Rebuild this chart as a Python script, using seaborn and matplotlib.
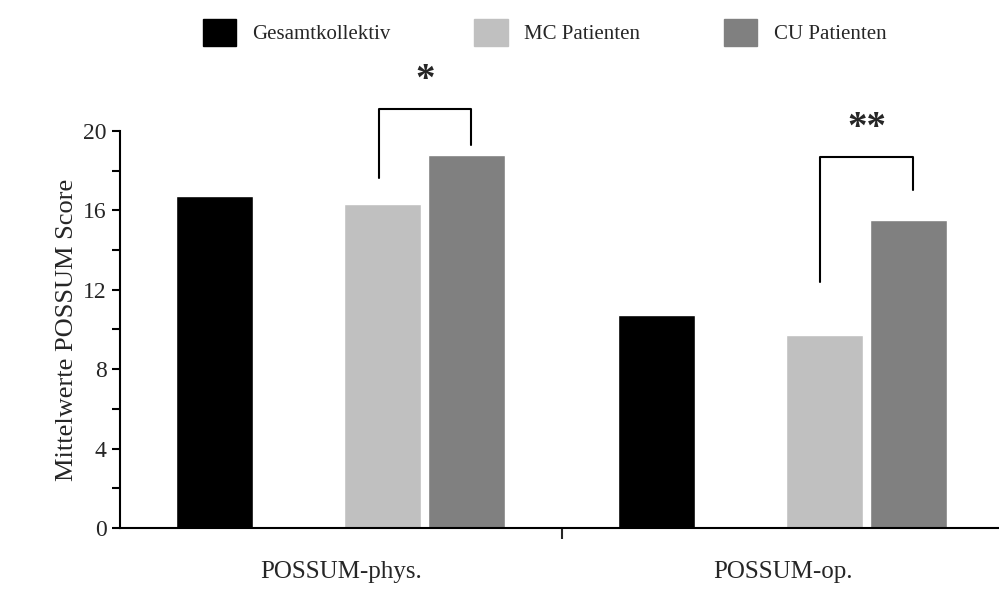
import pandas as pd
import matplotlib.pyplot as plt
import seaborn as sns

categories = ['POSSUM-phys.', 'POSSUM-op.']
groups = ['Gesamtkollektiv', 'MC Patienten', 'CU Patienten']
gesamt = [16.7, 10.7]
mc = [16.3, 9.7]
cu = [18.8, 15.5]
colors = ['#000000', '#c0c0c0', '#808080']

rows = []
for i, cat in enumerate(categories):
    rows.append((cat, 'Gesamtkollektiv', gesamt[i]))
    rows.append((cat, ' ', 0.0))  # spacer between overall and subgroups
    rows.append((cat, 'MC Patienten', mc[i]))
    rows.append((cat, 'CU Patienten', cu[i]))
df = pd.DataFrame(rows, columns=['cat', 'group', 'value'])

sns.set_style('ticks')
plt.rcParams['font.family'] = ['Liberation Serif', 'DejaVu Serif']

fig = plt.figure(figsize=(9.99, 6), dpi=100)
ax = fig.add_axes([0.12, 0.12, 0.88, 0.662])
hue_order = ['Gesamtkollektiv', ' ', 'MC Patienten', 'CU Patienten']
palette = {'Gesamtkollektiv': colors[0], ' ': 'white', 'MC Patienten': colors[1], 'CU Patienten': colors[2]}
sns.barplot(data=df, x='cat', y='value', hue='group', hue_order=hue_order, palette=palette,
            order=categories, width=0.76, gap=0.08, saturation=1, ax=ax, legend=False)

ax.set_xlim(-0.5, 1.49)
ax.set_ylim(0, 20)
ax.set_yticks([0, 4, 8, 12, 16, 20])
ax.set_yticks([2, 6, 10, 14, 18], minor=True)
ax.set_xticks([0, 1])
ax.set_xticklabels(categories, fontsize=18)
ax.set_xticks([0.5], minor=True)
ax.tick_params(axis='x', which='major', length=0, pad=24)
ax.tick_params(axis='x', which='minor', length=8, width=1.5, direction='out')
ax.tick_params(axis='y', which='both', length=6, width=1.5, labelsize=17, color='black')
ax.set_xlabel('')
ax.set_ylabel('Mittelwerte POSSUM Score', fontsize=19)
sns.despine(ax=ax)
for s in ['left', 'bottom']:
    ax.spines[s].set_linewidth(1.5)
    ax.spines[s].set_color('black')

# significance brackets
step = 0.76 / 4
def bracket(c, y_top, y_left, y_right, label):
    x1 = c + step * 0.45
    x2 = c + step * 1.55
    ax.plot([x1, x1, x2, x2], [y_left, y_top, y_top, y_right], color='black', lw=1.5, clip_on=False)
    ax.text((x1 + x2) / 2, y_top + 0.5, label, ha='center', va='bottom', fontsize=28,
            fontweight='bold', clip_on=False)

bracket(0, 21.1, 17.6, 19.3, '*')
bracket(1, 18.7, 12.4, 17.0, '**')

handles = [plt.Rectangle((0, 0), 1, 1, color=c) for c in colors]
fig.legend(handles, groups, loc='upper center', bbox_to_anchor=(0.545, 1.0), ncol=3,
           frameon=False, fontsize=15, handlelength=1.6, handleheight=1.6, columnspacing=4.0)

fig.savefig('out.png', dpi=100)
